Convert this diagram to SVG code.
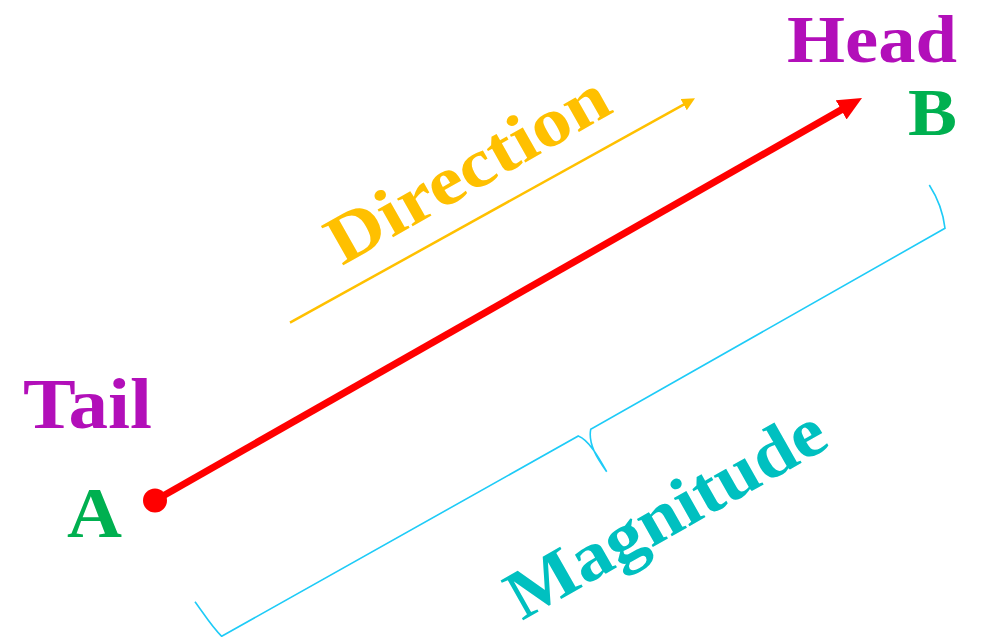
<svg xmlns="http://www.w3.org/2000/svg" width="984" height="637" viewBox="0 0 984 637">
<style>
.lbl{font-family:"Liberation Serif","Times New Roman",serif;font-weight:bold;}
.purple{fill:#B20FB9;}
.green{fill:#00B050;}
</style>
<defs>
<marker id="redHead" markerUnits="userSpaceOnUse" markerWidth="24" markerHeight="22" refX="2" refY="11" orient="auto">
<path d="M0,0 L24,11 L0,22 z" fill="#FF0000"/>
</marker>
<marker id="goldHead" markerUnits="userSpaceOnUse" markerWidth="13" markerHeight="13" refX="1" refY="6.5" orient="auto">
<path d="M0,0 L13,6.5 L0,13 z" fill="#FFC000"/>
</marker>
</defs>
<rect width="984" height="637" fill="#FFFFFF"/>
<g id="connectors">
<line id="vector-AB" x1="155" y1="500.5" x2="842.9" y2="108.9" stroke="#FF0000" stroke-width="7" marker-end="url(#redHead)"/>
<line id="direction-arrow" x1="290" y1="322.7" x2="684.5" y2="104.1" stroke="#FFC000" stroke-width="2.5" marker-end="url(#goldHead)"/>
<path id="magnitude-brace" d="M195,601.7 C204,614 212,627 221.7,636.3 L578.3,436 C589,440 599,458 606.7,471.7 C597,458 588,444 590.7,429.3 L945,228.3 C943,211 937,197 929.3,185" fill="none" stroke="#1ECBF7" stroke-width="1.6"/>
</g>
<g id="node-A">
<circle cx="155" cy="500.5" r="12" fill="#FF0000"/>
<text class="lbl green" x="67" y="537" font-size="72" textLength="55" lengthAdjust="spacingAndGlyphs">A</text>
</g>
<g id="node-tail">
<text class="lbl purple" x="23" y="428" font-size="71" textLength="129" lengthAdjust="spacingAndGlyphs">Tail</text>
</g>
<g id="node-head">
<text class="lbl purple" x="787" y="62" font-size="68" textLength="170" lengthAdjust="spacingAndGlyphs">Head</text>
</g>
<g id="node-B">
<text class="lbl green" x="908" y="135" font-size="68" textLength="49" lengthAdjust="spacingAndGlyphs">B</text>
</g>
<g id="node-direction">
<text class="lbl" fill="#FFC000" x="342" y="266" font-size="69" textLength="314" lengthAdjust="spacingAndGlyphs" transform="rotate(-29.5 342 266)">Direction</text>
</g>
<g id="node-magnitude">
<text class="lbl" fill="#00C0C0" x="522" y="621" font-size="70" textLength="356" lengthAdjust="spacingAndGlyphs" transform="rotate(-29.5 522 621)">Magnitude</text>
</g>
</svg>
